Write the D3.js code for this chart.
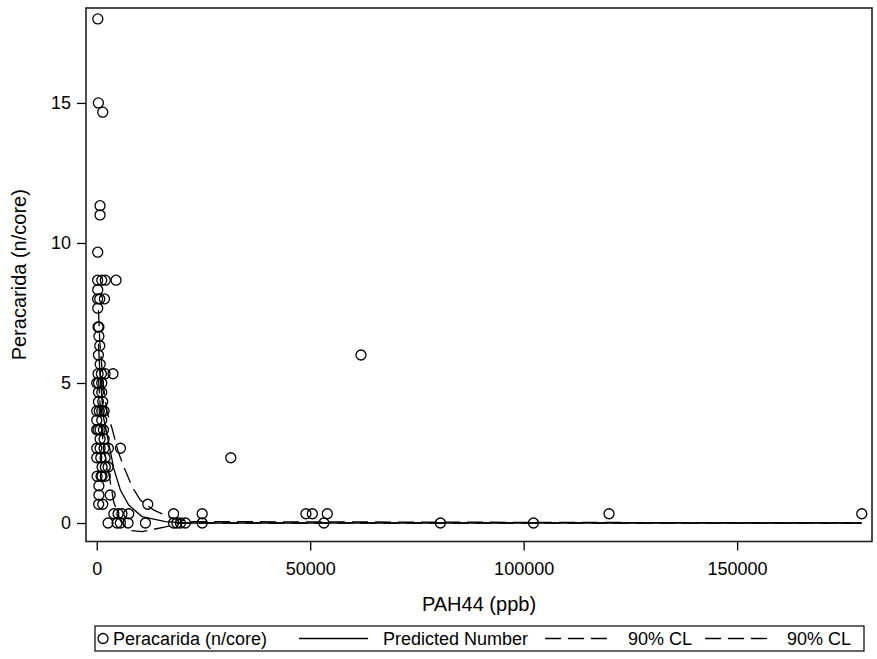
<!DOCTYPE html>
<html>
<head>
<meta charset="utf-8">
<script src="https://cdn.jsdelivr.net/npm/d3@7"></script>
<style>
  body { margin: 0; background: #fff; }
  svg { display: block; font-family: "Liberation Sans", Arial, sans-serif; }
</style>
</head>
<body>
<div id="chart"></div>
<script>
// observed points: PAH44 (ppb) and Peracarida per core
var obsX = [250, 380, 1400, 770, 770, 230,
    200, 1170, 2000, 4520, 230, 200, 700, 1800, 230,
    300, 500, 500, 700, 400, 800,
    300, 1080, 1940, 3800, 0, 400, 1170,
    400, 1170, 400, 1400, 0, 600, 1170, 1720,
    0, 1170, 0, 300, 780, 1560, 780, 1720,
    0, 780, 1720, 2720, 5550, 0, 940, 1950,
    1240, 2010, 2650, 70, 1000, 1240, 2000,
    500, 500, 3150, 450, 1400, 11950,
    4000, 5000, 5900, 7500, 18000, 24700, 49000, 50500, 54000, 120000, 179200,
    2650, 4750, 5530, 7330, 11400, 18000, 18750, 19600, 20750, 24700, 53200, 80500, 102300,
    61900, 31400];
var obsY = [18, 15, 14.67, 11.33, 11, 9.67,
    8.67, 8.67, 8.67, 8.67, 8.33, 8, 8, 8, 7.67,
    7, 7, 6.67, 6.33, 6, 5.67,
    5.33, 5.33, 5.33, 5.33, 5, 5, 5,
    4.67, 4.67, 4.33, 4.33, 4, 4, 4, 4,
    3.67, 3.67, 3.33, 3.33, 3.33, 3.33, 3, 3,
    2.67, 2.67, 2.67, 2.67, 2.67, 2.33, 2.33, 2.33,
    2, 2, 2, 1.67, 1.67, 1.67, 1.67,
    1.33, 1, 1, 0.67, 0.67, 0.67,
    0.33, 0.33, 0.33, 0.33, 0.33, 0.33, 0.33, 0.33, 0.33, 0.33, 0.33,
    0, 0, 0, 0, 0, 0, 0, 0, 0, 0, 0, 0, 0,
    6, 2.33];

// predicted number
var fitX = [400, 700, 1550, 2810, 3980, 5530, 7490, 10600, 16100, 21400, 179200];
var fitY = [6.4, 5.46, 3.8, 2.85, 1.95, 1.18, 0.64, 0.23, 0.05, 0, 0];
// 90% CL upper
var upX = [400, 700, 1550, 2410, 3580, 5000, 6320, 8270, 10200, 13350, 17630, 21500, 179200];
var upY = [7.6, 6.5, 4.9, 3.97, 3.38, 2.55, 2.01, 1.3, 0.82, 0.46, 0.17, 0.05, 0];
// 90% CL lower
var loX = [400, 700, 1550, 2900, 3980, 5530, 7490, 10600, 16100, 19500, 179200];
var loY = [5.2, 4.4, 2.7, 1.7, 0.75, 0.08, -0.26, -0.31, -0.14, 0, 0];

var xTicks = [0, 50000, 100000, 150000];
var yTicks = [0, 5, 10, 15];

var W = 877, H = 659;
var plotL = 86, plotR = 872, plotT = 8, plotB = 541.5;

var svg = d3.select('#chart').append('svg')
    .attr('width', W)
    .attr('height', H);

var x = d3.scaleLinear().domain([-2520, 181600]).range([plotL, plotR]);
var y = d3.scaleLinear().domain([-0.66, 18.39]).range([plotB, plotT]);

// axes
var xAxis = svg.append('g')
    .attr('transform', 'translate(0,' + plotB + ')')
    .call(d3.axisBottom(x).tickValues(xTicks).tickFormat(d3.format('d')).tickSize(9).tickPadding(12));
var yAxis = svg.append('g')
    .attr('transform', 'translate(' + plotL + ',0)')
    .call(d3.axisLeft(y).tickValues(yTicks).tickFormat(d3.format('d')).tickSize(9).tickPadding(6));
[xAxis, yAxis].forEach(function(a) {
    a.select('.domain').remove();
    a.attr('font-family', null).attr('font-size', null);
    a.selectAll('line').attr('stroke', '#000').attr('stroke-width', 1.3);
    a.selectAll('text').style('font-size', '18px').attr('fill', '#000');
});

// frame
svg.append('rect')
    .attr('x', plotL).attr('y', plotT)
    .attr('width', plotR - plotL).attr('height', plotB - plotT)
    .attr('fill', 'none').attr('stroke', '#222').attr('stroke-width', 1.6);

// curves
function curve(xs, ys) {
    return d3.line()
        .x(function(d, i) { return x(xs[i]); })
        .y(function(d, i) { return y(ys[i]); })(xs);
}
var curves = svg.append('g').attr('fill', 'none').attr('stroke', '#000').attr('stroke-width', 1.3);
curves.append('path').attr('d', curve(upX, upY)).attr('stroke-dasharray', '16,7');
curves.append('path').attr('d', curve(loX, loY)).attr('stroke-dasharray', '16,7');
curves.append('path').attr('d', curve(fitX, fitY));

// points
svg.append('g').selectAll('circle')
    .data(obsX)
    .enter()
    .append('circle')
    .attr('cx', function(d) { return x(d); })
    .attr('cy', function(d, i) { return y(obsY[i]); })
    .attr('r', 5)
    .attr('fill', 'none')
    .attr('stroke', '#000')
    .attr('stroke-width', 1.3);

// axis titles
svg.append('text')
    .attr('x', (plotL + plotR) / 2).attr('y', 611)
    .attr('text-anchor', 'middle')
    .style('font-size', '20px')
    .text('PAH44 (ppb)');
svg.append('text')
    .attr('transform', 'translate(26,' + (plotT + plotB) / 2 + ') rotate(-90)')
    .attr('text-anchor', 'middle')
    .style('font-size', '20px')
    .text('Peracarida (n/core)');

// legend
var lg = svg.append('g');
var ly = 638.5;
lg.append('rect').attr('x', 95).attr('y', 626).attr('width', 769).attr('height', 25)
    .attr('fill', 'none').attr('stroke', '#000').attr('stroke-width', 1.2);
lg.append('circle').attr('cx', 103).attr('cy', ly).attr('r', 5)
    .attr('fill', 'none').attr('stroke', '#000').attr('stroke-width', 1.3);
lg.append('line').attr('x1', 299).attr('x2', 368).attr('y1', ly).attr('y2', ly)
    .attr('stroke', '#000').attr('stroke-width', 1.3);
lg.append('line').attr('x1', 545).attr('x2', 612).attr('y1', ly).attr('y2', ly)
    .attr('stroke', '#000').attr('stroke-width', 1.3).attr('stroke-dasharray', '16,7');
lg.append('line').attr('x1', 705).attr('x2', 771).attr('y1', ly).attr('y2', ly)
    .attr('stroke', '#000').attr('stroke-width', 1.3).attr('stroke-dasharray', '16,7');
var legTexts = [[113, 'Peracarida (n/core)'], [383, 'Predicted Number'], [628, '90% CL'], [787, '90% CL']];
lg.selectAll('text')
    .data(legTexts)
    .enter()
    .append('text')
    .attr('x', function(d) { return d[0]; })
    .attr('y', 645)
    .style('font-size', '18px')
    .text(function(d) { return d[1]; });
</script>
</body>
</html>
